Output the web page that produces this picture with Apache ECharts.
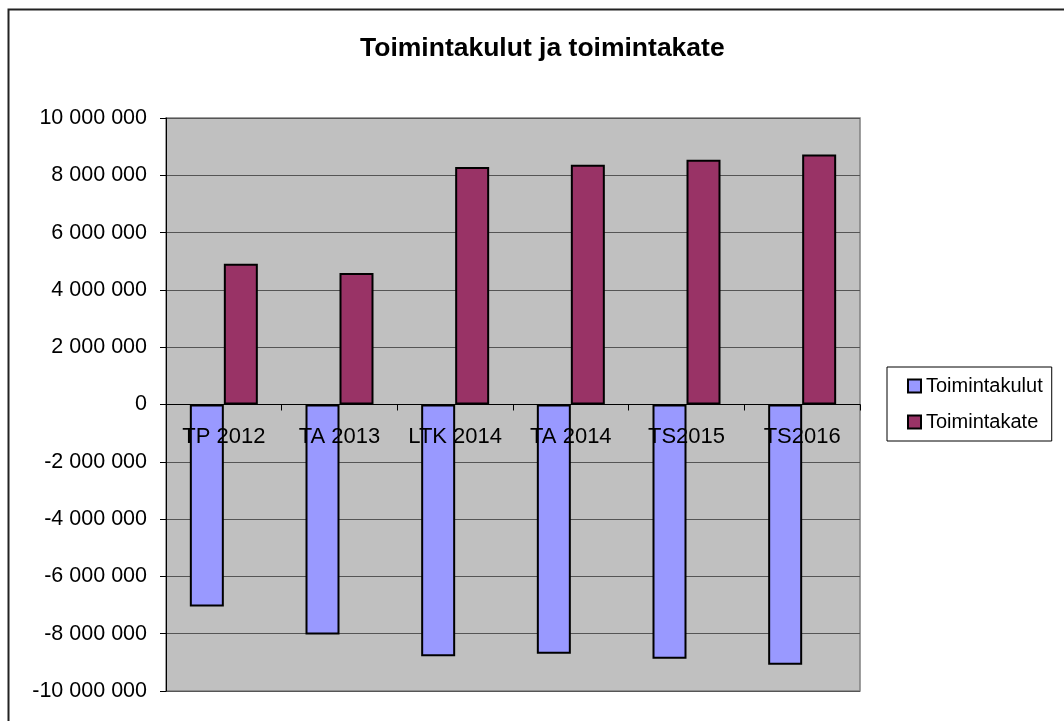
<!DOCTYPE html>
<html>
<head>
<meta charset="utf-8">
<script src="https://cdn.jsdelivr.net/npm/echarts@6/dist/echarts.min.js"></script>
<style>
  html, body { margin: 0; padding: 0; background: #ffffff; }
  #chart { width: 1064px; height: 721px; }
</style>
</head>
<body>
<div id="chart"></div>
<script>
// Categories and series values
const categories = ['TP 2012', 'TA 2013', 'LTK 2014', 'TA 2014', 'TS2015', 'TS2016'];
const toimintakulut = [-7050000, -8030000, -8790000, -8700000, -8870000, -9080000];
const toimintakate = [4910000, 4590000, 8290000, 8370000, 8540000, 8730000];

const FONT = 'Arial, "Liberation Sans", Helvetica, sans-serif';

// "10 000 000" style thousands grouping
function spaced(v) {
  const s = Math.abs(v).toString().replace(/\B(?=(\d{3})+(?!\d))/g, ' ');
  return (v < 0 ? '-' : '') + s;
}

// plot box
const GRID_TOP = 118, GRID_BOTTOM = 30, CHART_H = 721;
const plotH = CHART_H - GRID_TOP - GRID_BOTTOM;

const chart = echarts.init(document.getElementById('chart'), null, { renderer: 'canvas' });

chart.setOption({
  backgroundColor: '#ffffff',
  animation: false,
  title: {
    text: 'Toimintakulut ja toimintakate',
    left: 360,
    top: 35,
    padding: 0,
    textStyle: { fontFamily: FONT, fontSize: 26.5, fontWeight: 'bold', color: '#000' }
  },
  graphic: [{
    type: 'rect',
    silent: true,
    z: 100,
    shape: { x: 8.5, y: 9.5, width: 1200, height: 900 },
    style: { fill: 'none', stroke: '#222', lineWidth: 2 }
  }],
  legend: {
    orient: 'vertical',
    left: 887,
    top: 367,
    padding: [9, 9, 9, 20],
    itemGap: 16,
    itemWidth: 13,
    itemHeight: 13,
    borderColor: '#000',
    borderWidth: 1,
    backgroundColor: '#fff',
    icon: 'rect',
    textStyle: { fontFamily: FONT, fontSize: 20, color: '#000' },
    data: ['Toimintakulut', 'Toimintakate']
  },
  grid: {
    left: 166,
    top: GRID_TOP,
    right: 204,
    bottom: GRID_BOTTOM,
    outerBoundsMode: 'none',
    containLabel: false,
    show: true,
    backgroundColor: '#C0C0C0',
    borderColor: '#808080',
    borderWidth: 1.5
  },
  xAxis: {
    type: 'category',
    data: categories,
    position: 'bottom',
    // the value range is symmetric, so the category axis sits at the middle of the plot (value 0)
    offset: -plotH / 2,
    z: 10,
    axisLine: { show: true, onZero: false, lineStyle: { color: '#000', width: 1 } },
    axisTick: { show: true, inside: false, length: 6, interval: 0, alignWithLabel: false, lineStyle: { color: '#000' } },
    axisLabel: { interval: 0, margin: 21, fontFamily: FONT, fontSize: 22, color: '#000' },
    splitLine: { show: false }
  },
  yAxis: {
    type: 'value',
    min: -10000000,
    max: 10000000,
    interval: 2000000,
    axisLine: { show: true, lineStyle: { color: '#000', width: 1 } },
    axisTick: { show: true, inside: false, length: 6, lineStyle: { color: '#000' } },
    axisLabel: { margin: 19, fontFamily: FONT, fontSize: 21.5, color: '#000', formatter: spaced },
    splitLine: { show: true, lineStyle: { color: '#555', width: 1 } }
  },
  series: [
    {
      name: 'Toimintakulut',
      type: 'bar',
      data: toimintakulut,
      barWidth: 34,
      barGap: '0%',
      itemStyle: { color: '#9999FF', borderColor: '#000', borderWidth: 2 }
    },
    {
      name: 'Toimintakate',
      type: 'bar',
      data: toimintakate,
      barWidth: 34,
      barGap: '0%',
      itemStyle: { color: '#993366', borderColor: '#000', borderWidth: 2 }
    }
  ]
});
</script>
</body>
</html>
